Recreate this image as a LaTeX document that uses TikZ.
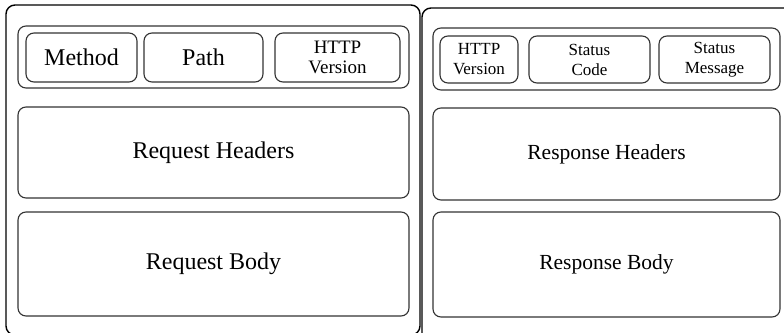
\documentclass[tikz,border=0pt]{standalone}
\usepackage{fontspec}
\setmainfont{Liberation Serif}
\begin{document}
\begin{tikzpicture}[x=1pt,y=-1pt,
  outerbox/.style={draw=black, line width=1.4pt, rounded corners=9pt, inner sep=0pt, outer sep=0pt},
  rowbox/.style={draw=black!80, line width=1.1pt, rounded corners=8pt, inner sep=0pt, outer sep=0pt},
  cellbox/.style={draw=black!80, line width=1.1pt, rounded corners=8pt, inner sep=0pt, outer sep=0pt, align=center},
  bigbox/.style={draw=black!80, line width=1.1pt, rounded corners=8pt, inner sep=0pt, outer sep=0pt, align=center},
  reqtext/.style={font=\fontsize{24}{26}\selectfont},
  reqsmall/.style={font=\fontsize{19}{20}\selectfont},
  restext/.style={font=\fontsize{21.5}{24}\selectfont},
  ressmall/.style={font=\fontsize{17}{20}\selectfont}]
\useasboundingbox (0,0) rectangle (784,332);
\clip (0,0) rectangle (784,332);
% request side
\node[outerbox, minimum width=414pt, minimum height=330pt] (req) at (213,170) {};
\node[rowbox, minimum width=391pt, minimum height=62pt] (reqline) at (213.5,57) {};
\node[cellbox, reqtext, minimum width=111pt, minimum height=49pt] (method) at (81.5,57.5) {Method};
\node[cellbox, reqtext, minimum width=119pt, minimum height=49pt] (path) at (203.5,57.5) {Path};
\node[cellbox, reqsmall, minimum width=125pt, minimum height=49pt] (reqver) at (337.5,57.5) {HTTP\\Version};
\node[bigbox, reqtext, minimum width=391pt, minimum height=91pt] (reqhead) at (213.5,152.5) {Request Headers};
\node[bigbox, reqtext, minimum width=391pt, minimum height=104pt] (reqbody) at (213.5,264) {Request Body};
% response side
\node[outerbox, minimum width=374pt, minimum height=334pt] (res) at (609,175) {};
\node[rowbox, minimum width=347pt, minimum height=62pt] (resline) at (606.5,59) {};
\node[cellbox, ressmall, minimum width=78pt, minimum height=47pt] (resver) at (479,59.5) {HTTP\\Version};
\node[cellbox, ressmall, minimum width=121pt, minimum height=47pt] (code) at (589.5,59.5) {Status\\Code};
\node[cellbox, ressmall, minimum width=111pt, minimum height=47pt] (msg) at (714.5,59.5) {Status\\Message};
\node[bigbox, restext, minimum width=347pt, minimum height=92pt] (reshead) at (606.5,154) {Response Headers};
\node[bigbox, restext, minimum width=347pt, minimum height=105pt] (resbody) at (606.5,264.5) {Response Body};
\end{tikzpicture}
\end{document}
